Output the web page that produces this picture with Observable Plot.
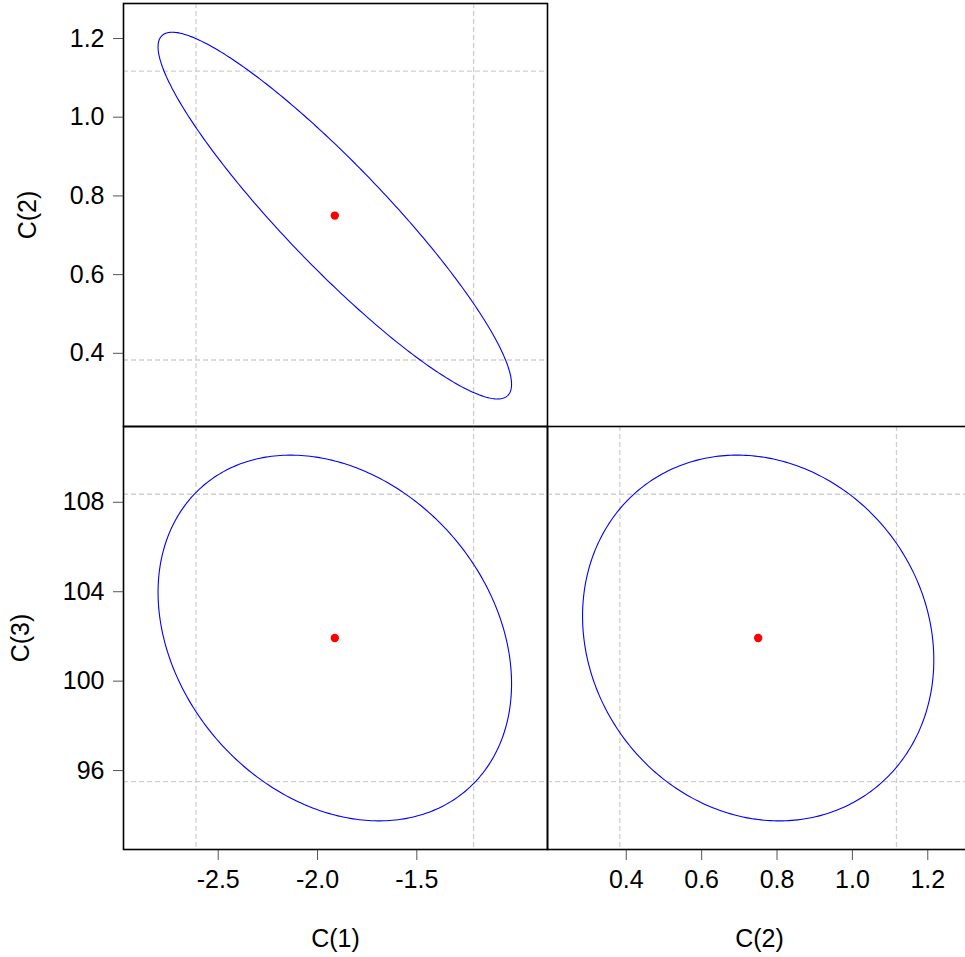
<!DOCTYPE html>
<html>
<head>
<meta charset="utf-8">
<script src="https://cdn.jsdelivr.net/npm/d3@7"></script>
<script src="https://cdn.jsdelivr.net/npm/@observablehq/plot@0.6"></script>
<style>
  html, body { margin: 0; padding: 0; background: #fff; overflow: hidden; }
  #chart { position: relative; width: 965px; height: 957px; overflow: hidden; background: #fff; }
  #chart svg { position: absolute; left: 0; top: 0; }
  #chart g[aria-label$="axis tick"] path, #chart .tick line { stroke: #555; }
</style>
</head>
<body>
<div id="chart"></div>
<script>
// ---- values ----
const coefNames = ["C(1)", "C(2)", "C(3)"];
const coefEstimates = [-1.913, 0.750, 101.93];
const ciLower = [-2.612, 0.383, 95.51];     // dashed lines (individual intervals)
const ciUpper = [-1.214, 1.117, 108.36];
const ellipseHalfExtent = [0.890, 0.466, 8.18]; // half-width of the joint ellipse on each axis
const pairCorrelation = { "0-1": -0.92, "0-2": -0.25, "1-2": -0.12 };
const ticksC1 = [-2.5, -2.0, -1.5];
const ticksC2 = [0.4, 0.6, 0.8, 1.0, 1.2];
const ticksC3 = [96, 100, 104, 108];

// ---- ellipse outline from centre, half extents and correlation ----
function ellipse(i, j) {
  const rho = pairCorrelation[`${i}-${j}`];
  const pts = [];
  for (let a = 0; a <= 360; a += 1) {
    const t = a * Math.PI / 180;
    pts.push({
      x: coefEstimates[i] + ellipseHalfExtent[i] * Math.cos(t),
      y: coefEstimates[j] + ellipseHalfExtent[j] * (rho * Math.cos(t) + Math.sqrt(1 - rho * rho) * Math.sin(t))
    });
  }
  return pts;
}

const W = 965, H = 957;
const font = "'Liberation Sans', Arial, sans-serif";
const style = { background: "none", maxWidth: "none", overflow: "visible", fontFamily: font, fontSize: "25px", color: "black" };
const gridStyle = { stroke: "#cfcfcf", strokeWidth: 1.3, strokeDasharray: "5,3" };
const fmt1 = d => d.toFixed(1);
const fmt0 = d => d.toFixed(0);

const domC1 = [-2.977, -0.842];
const domC2x = [0.191, 1.316];
const domC2y = [0.214, 1.289];
const domC3 = [92.47, 111.39];

function panel(i, j, opts) {
  return Plot.plot({
    width: opts.width ?? W, height: H,
    marginLeft: opts.ml, marginRight: opts.mr, marginTop: opts.mt, marginBottom: opts.mb,
    style,
    x: opts.x, y: opts.y,
    marks: [
      Plot.ruleX([ciLower[i], ciUpper[i]], gridStyle),
      Plot.ruleY([ciLower[j], ciUpper[j]], gridStyle),
      Plot.line(ellipse(i, j), { x: "x", y: "y", stroke: "#0000ff", strokeWidth: 1.1 }),
      Plot.dot([{ x: coefEstimates[i], y: coefEstimates[j] }], { x: "x", y: "y", r: 4.2, fill: "#ff0000", stroke: "none" }),
      Plot.frame({ stroke: "black", strokeWidth: 1.6 })
    ]
  });
}

const chart = document.getElementById("chart");

// top-left: C(1) vs C(2)
chart.appendChild(panel(0, 1, {
  ml: 123, mr: W - 547, mt: 3, mb: H - 426,
  x: { domain: domC1, axis: null },
  y: { domain: domC2y, ticks: ticksC2, tickFormat: fmt1, tickSize: 10, tickPadding: 9,
       label: coefNames[1], labelArrow: "none", labelAnchor: "center", labelOffset: 105 }
}));

// bottom-left: C(1) vs C(3)
chart.appendChild(panel(0, 2, {
  ml: 123, mr: W - 547, mt: 426, mb: H - 849,
  x: { domain: domC1, ticks: ticksC1, tickFormat: fmt1, tickSize: 11, tickPadding: 10,
       label: coefNames[0], labelArrow: "none", labelAnchor: "center", labelOffset: 97 },
  y: { domain: domC3, ticks: ticksC3, tickFormat: fmt0, tickSize: 10, tickPadding: 9,
       label: coefNames[2], labelArrow: "none", labelAnchor: "center", labelOffset: 112 }
}));

// bottom-right: C(2) vs C(3)
chart.appendChild(panel(1, 2, {
  width: 971, ml: 547, mr: 0, mt: 426, mb: H - 849,
  x: { domain: domC2x, ticks: ticksC2, tickFormat: fmt1, tickSize: 11, tickPadding: 10,
       label: coefNames[1], labelArrow: "none", labelAnchor: "center", labelOffset: 97 },
  y: { domain: domC3, axis: null }
}));
</script>
</body>
</html>
